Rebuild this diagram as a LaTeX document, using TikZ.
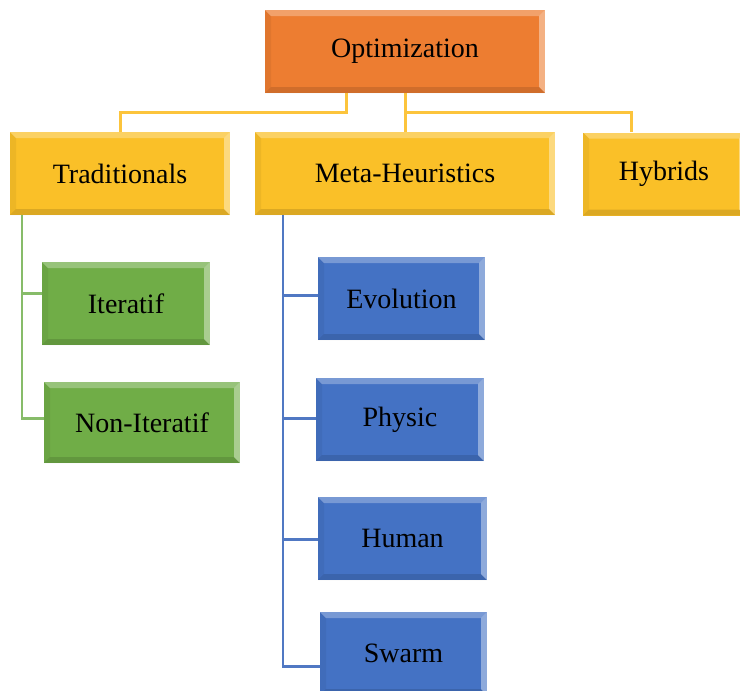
\documentclass[tikz,border=0pt]{standalone}
\usepackage{fontspec}
\setmainfont{Liberation Serif}
\definecolor{cOrange}{RGB}{237,125,49}
\definecolor{cGold}{RGB}{250,192,40}
\definecolor{cGreen}{RGB}{112,173,71}
\definecolor{cBlue}{RGB}{68,114,196}
\definecolor{lGold}{RGB}{252,196,60}
\definecolor{lGreen}{RGB}{135,188,105}
\definecolor{lBlue}{RGB}{80,120,195}
\tikzset{
  bevel/.style={path picture={
    \def\bv{6pt}
    \fill[white,opacity=.28] (path picture bounding box.north west) -- (path picture bounding box.north east) -- ([xshift=-\bv,yshift=-\bv]path picture bounding box.north east) -- ([xshift=\bv,yshift=-\bv]path picture bounding box.north west) -- cycle;
    \fill[white,opacity=.4] (path picture bounding box.north east) -- (path picture bounding box.south east) -- ([xshift=-\bv,yshift=\bv]path picture bounding box.south east) -- ([xshift=-\bv,yshift=-\bv]path picture bounding box.north east) -- cycle;
    \fill[black,opacity=.12] (path picture bounding box.south east) -- (path picture bounding box.south west) -- ([xshift=\bv,yshift=\bv]path picture bounding box.south west) -- ([xshift=-\bv,yshift=\bv]path picture bounding box.south east) -- cycle;
    \fill[black,opacity=.05] (path picture bounding box.south west) -- (path picture bounding box.north west) -- ([xshift=\bv,yshift=-\bv]path picture bounding box.north west) -- ([xshift=\bv,yshift=\bv]path picture bounding box.south west) -- cycle;
  }},
  box/.style={rectangle, bevel, inner sep=0pt, minimum height=83pt,
    font=\fontsize{28}{33}\selectfont, text=black},
  obox/.style={box, fill=cOrange},
  ybox/.style={box, fill=cGold},
  gbox/.style={box, fill=cGreen},
  bbox/.style={box, fill=cBlue},
  yline/.style={draw=lGold, line width=3pt},
  gline/.style={draw=lGreen, line width=2.2pt},
  bline/.style={draw=lBlue, line width=2.2pt},
}
\begin{document}
\begin{tikzpicture}[x=1pt,y=-1pt]
\useasboundingbox (0,0) rectangle (740,691);
\fill[white] (0,0) rectangle (740,691);
\node[obox, minimum width=280pt] (opt) at (405,51.5) {Optimization};
\node[ybox, minimum width=220pt] (trad) at (120,173.5) {Traditionals};
\node[ybox, minimum width=300pt] (meta) at (405,173.5) {Meta-Heuristics};
\node[ybox, minimum width=162pt] (hyb) at (664,174) {Hybrids};
\node[gbox, minimum width=168pt] (iter) at (126,303.5) {Iteratif};
\node[gbox, minimum width=196pt, minimum height=81pt] (non) at (142,422.5) {Non-Iteratif};
\node[bbox, minimum width=167pt] (evo) at (401.5,298.5) {Evolution};
\node[bbox, minimum width=168pt] (phy) at (400,419.5) {Physic};
\node[bbox, minimum width=169pt] (hum) at (402.5,538.5) {Human};
\node[bbox, minimum width=167pt] (swa) at (403.5,653.5) {Swarm};
% top connectors
\draw[yline] ([xshift=-59pt]opt.south) -- ++(0,19) -| (trad.north);
\draw[yline] (opt.south) -- (meta.north);
\draw[yline] (opt.south) ++(0,19) -| ([xshift=-33pt]hyb.north);
% green
\draw[gline] ([xshift=-98pt]trad.south) |- ([yshift=10pt]iter.west);
\draw[gline] ([xshift=-98pt]trad.south) |- ([yshift=4pt]non.west);
% blue
\draw[bline] ([xshift=-122pt]meta.south) |- ([yshift=-13pt]swa.west);
\draw[bline] ([yshift=3pt]evo.west) -| ([xshift=-122pt]meta.south);
\draw[bline] ([yshift=1pt]phy.west) -| ([xshift=-122pt]meta.south);
\draw[bline] ([yshift=-1pt]hum.west) -| ([xshift=-122pt]meta.south);
\end{tikzpicture}
\end{document}
